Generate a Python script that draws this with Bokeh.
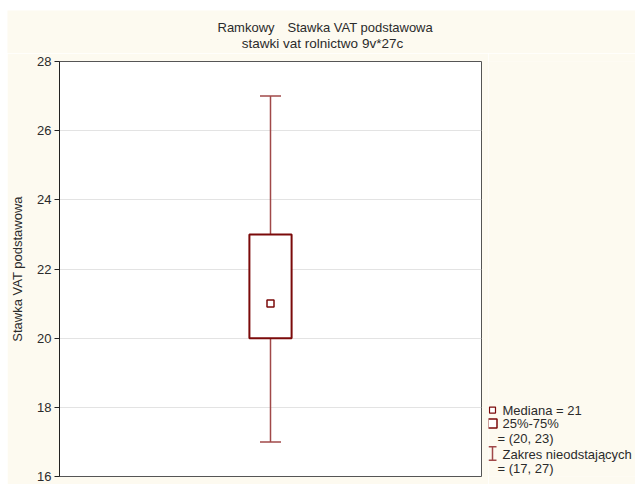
from bokeh.plotting import figure
from bokeh.models import (Range1d, FactorRange, FixedTicker, Whisker,
                          ColumnDataSource, TeeHead, Spacer)
from bokeh.layouts import row, column
from bokeh.core.properties import value
from bokeh.embed import file_html
from bokeh.resources import INLINE

# ---- data ----
categories = ["Stawka VAT podstawowa"]
median = [21]
q1 = [20]
q3 = [23]
whisker_low = [17]
whisker_high = [27]
y_ticks = [16, 18, 20, 22, 24, 26, 28]
title_prefix = "Ramkowy"
title_var = "Stawka VAT podstawowa"
subtitle = "stawki vat rolnictwo 9v*27c"
y_label = "Stawka VAT podstawowa"

# ---- style ----
FONT = "Liberation Sans"
BG = "#fdfaf0"
DARK_RED = "#7b0a0a"
WHISK = "#a04848"
TXT = "#2b2b2b"


def panel(w, h, xr, yr):
    f = figure(width=w, height=h, output_backend="svg", toolbar_location=None,
               x_range=xr, y_range=yr, x_axis_location=None,
               y_axis_location=None, min_border=0)
    f.background_fill_color = BG
    f.border_fill_color = BG
    f.outline_line_color = None
    f.grid.visible = False
    return f


src = ColumnDataSource(dict(cat=categories, med=median, q1=q1, q3=q3,
                            lo=whisker_low, hi=whisker_high))

# ---- title strip ----
tf = panel(628, 43, Range1d(0, 628), Range1d(43, 0))
tf.text(x=[210, 280], y=[17, 17], text=[title_prefix, title_var],
        text_font=value(FONT), text_font_size="13px", text_color=TXT,
        text_align="left", text_baseline="middle")
tf.text(x=[315], y=[33], text=[subtitle],
        text_font=value(FONT), text_font_size="13.5px", text_color=TXT,
        text_align="center", text_baseline="middle")

# ---- main plot ----
p = figure(width=481, height=431, output_backend="svg", toolbar_location=None,
           x_range=FactorRange(factors=categories, range_padding=0),
           y_range=Range1d(y_ticks[0], y_ticks[-1]),
           x_axis_location=None,
           min_border_left=52, min_border_right=7, min_border_top=8,
           min_border_bottom=8)
p.background_fill_color = "white"
p.border_fill_color = BG
p.outline_line_color = "#555555"
p.outline_line_width = 1

p.xgrid.visible = False
p.ygrid.grid_line_color = "#e3e3e3"
p.ygrid.grid_line_width = 1

ax = p.yaxis[0]
ax.ticker = FixedTicker(ticks=y_ticks)
ax.axis_line_color = "#222222"
ax.major_tick_line_color = "#222222"
ax.major_tick_out = 5
ax.major_tick_in = 0
ax.minor_tick_line_color = None
ax.major_label_standoff = 3
ax.major_label_text_font = FONT
ax.major_label_text_font_size = "13px"
ax.major_label_text_color = TXT
ax.axis_label = y_label
ax.axis_label_text_font = FONT
ax.axis_label_text_font_size = "13px"
ax.axis_label_text_font_style = "normal"
ax.axis_label_text_color = TXT
ax.axis_label_standoff = 9

wh = Whisker(base="cat", upper="hi", lower="lo", source=src,
             line_color=WHISK, line_width=1.5,
             upper_head=TeeHead(size=21, line_color=WHISK, line_width=1.5),
             lower_head=TeeHead(size=21, line_color=WHISK, line_width=1.5))
p.add_layout(wh)

p.vbar(x="cat", top="q3", bottom="q1", width=0.1, source=src,
       fill_color="white", line_color=DARK_RED, line_width=2)
p.scatter(x="cat", y="med", source=src, marker="square", size=7,
          fill_color="white", line_color=DARK_RED, line_width=1.5)

# ---- legend panel ----
lg = panel(147, 431, Range1d(0, 147), Range1d(431, 0))
lg.scatter(x=[4], y=[362], marker="square", size=6, fill_color="white",
           line_color=DARK_RED, line_width=1.2)
lg.scatter(x=[4], y=[376], marker="square", size=9, fill_color="white",
           line_color=DARK_RED, line_width=1.5)
lg.segment(x0=[4, 0, 0], y0=[400, 400, 414], x1=[4, 8, 8], y1=[414, 400, 414],
           line_color=WHISK, line_width=1.5)

leg_texts = [f"Mediana = {median[0]}",
             "25%-75%",
             f"= ({q1[0]}, {q3[0]})",
             "Zakres nieodstających",
             f"= ({whisker_low[0]}, {whisker_high[0]})"]
lg.text(x=[14, 14, 9, 14, 9], y=[362, 376, 392, 408, 423], text=leg_texts,
        text_font=value(FONT), text_font_size="13px", text_color=TXT,
        text_align="left", text_baseline="middle")

layout = column(
    Spacer(height=10, width=635),
    row(Spacer(width=7, height=474),
        column(tf, row(p, lg, spacing=0), spacing=0),
        spacing=0),
    spacing=0)
open("out.html", "w").write(file_html(layout, INLINE))
